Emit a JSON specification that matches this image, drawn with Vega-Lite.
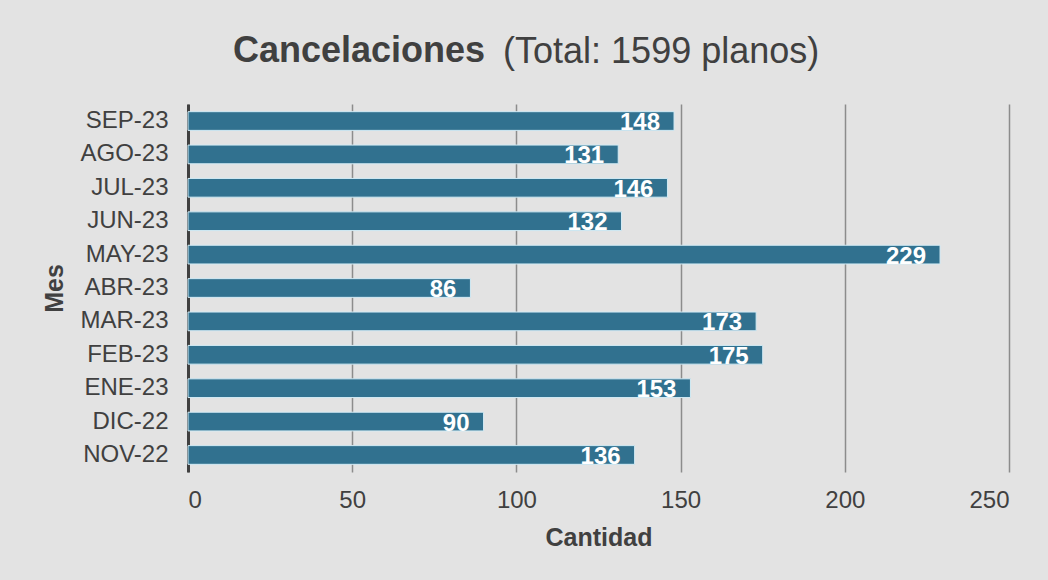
{
  "$schema": "https://vega.github.io/schema/vega-lite/v6.json",
  "width": 821,
  "height": 368,
  "autosize": {"type": "none"},
  "padding": {"left": 188, "top": 104, "right": 39, "bottom": 108},
  "background": "#e3e3e3",
  "title": {
    "text": "Cancelaciones",
    "subtitle": "\u200b\u00a0\u00a0\u00a0\u00a0\u00a0\u00a0\u00a0\u00a0\u00a0\u00a0\u00a0\u00a0\u00a0\u00a0\u00a0\u00a0\u00a0\u00a0\u00a0\u00a0\u00a0\u00a0\u00a0\u00a0\u00a0\u00a0\u00a0(Total: 1599 planos)",
    "anchor": "start",
    "frame": "group",
    "dx": 45,
    "offset": 33,
    "font": "Liberation Sans",
    "fontSize": 36,
    "fontWeight": "bold",
    "color": "#404040",
    "subtitleFont": "Liberation Sans",
    "subtitleFontSize": 36,
    "subtitleFontWeight": "normal",
    "subtitleColor": "#404040",
    "subtitlePadding": -35
  },
  "data": {
    "values": [
      {"mes": "SEP-23", "cantidad": 148},
      {"mes": "AGO-23", "cantidad": 131},
      {"mes": "JUL-23", "cantidad": 146},
      {"mes": "JUN-23", "cantidad": 132},
      {"mes": "MAY-23", "cantidad": 229},
      {"mes": "ABR-23", "cantidad": 86},
      {"mes": "MAR-23", "cantidad": 173},
      {"mes": "FEB-23", "cantidad": 175},
      {"mes": "ENE-23", "cantidad": 153},
      {"mes": "DIC-22", "cantidad": 90},
      {"mes": "NOV-22", "cantidad": 136}
    ]
  },
  "encoding": {
    "y": {
      "field": "mes",
      "type": "nominal",
      "sort": null,
      "scale": {"paddingInner": 0.44, "paddingOuter": 0.23},
      "axis": {
        "title": "Mes",
        "titleFont": "Liberation Sans",
        "titleFontSize": 25,
        "titleFontWeight": "bold",
        "titleColor": "#404040",
        "titlePadding": 12,
        "labelFont": "Liberation Sans",
        "labelFontSize": 24,
        "labelColor": "#404040",
        "labelPadding": 20,
        "ticks": false,
        "domainColor": "#404040",
        "domainWidth": 3,
        "grid": false
      }
    },
    "x": {
      "field": "cantidad",
      "type": "quantitative",
      "scale": {"domain": [0, 250], "nice": false},
      "axis": {
        "title": "Cantidad",
        "values": [0, 50, 100, 150, 200, 250],
        "titleFont": "Liberation Sans",
        "titleFontSize": 25,
        "titleFontWeight": "bold",
        "titleColor": "#404040",
        "titlePadding": 13,
        "labelFont": "Liberation Sans",
        "labelFontSize": 24,
        "labelColor": "#404040",
        "labelPadding": 16,
        "ticks": false,
        "domain": false,
        "grid": true,
        "gridColor": "#8c8c8c",
        "gridWidth": 1.5
      }
    }
  },
  "layer": [
    {
      "mark": {"type": "bar", "color": "#31718f", "stroke": "#d2ebf5", "strokeWidth": 1}
    },
    {
      "mark": {
        "type": "text",
        "align": "right",
        "baseline": "middle",
        "dx": -14,
        "dy": 2,
        "font": "Liberation Sans",
        "fontSize": 24,
        "fontWeight": "bold",
        "color": "#ffffff"
      },
      "encoding": {"text": {"field": "cantidad", "type": "quantitative"}}
    }
  ],
  "config": {"view": {"stroke": null}}
}
